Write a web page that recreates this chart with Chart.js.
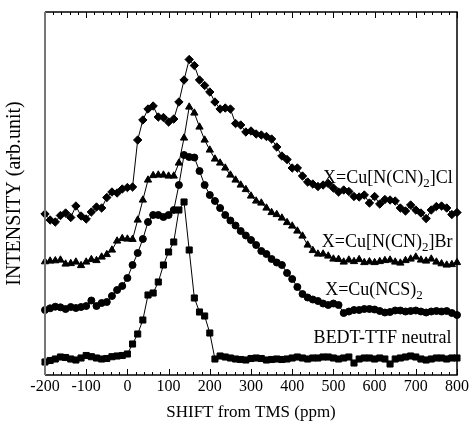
<!DOCTYPE html>
<html lang="en">
<head>
<meta charset="UTF-8">
<title>SHIFT from TMS</title>
<script src="https://cdn.jsdelivr.net/npm/chart.js"></script>
<style>
  html, body { margin: 0; padding: 0; background: #fff; }
  #wrap { width: 472px; height: 426px; }
</style>
</head>
<body>
<div id="wrap"><canvas id="nmrChart" width="472" height="426"></canvas></div>
<script>
// chemical shift (ppm), same grid for all four spectra
const shiftPpm = [
  -200, -187.5, -175, -162.5, -150, -137.5, -125, -112.5, -100, -87.5,
  -75, -62.5, -50, -37.5, -25, -12.5, 0, 12.5, 25, 37.5,
  50, 62.5, 75, 87.5, 100, 112.5, 125, 137.5, 150, 162.5,
  175, 187.5, 200, 212.5, 225, 237.5, 250, 262.5, 275, 287.5,
  300, 312.5, 325, 337.5, 350, 362.5, 375, 387.5, 400, 412.5,
  425, 437.5, 450, 462.5, 475, 487.5, 500, 512.5, 525, 537.5,
  550, 562.5, 575, 587.5, 600, 612.5, 625, 637.5, 650, 662.5,
  675, 687.5, 700, 712.5, 725, 737.5, 750, 762.5, 775, 787.5, 800
];

// intensities (arb. unit, curves offset as in the figure)
const clIntensity = [
  161, 155, 153, 159.5, 162, 157.5, 169, 159, 156, 163,
  168, 167, 177.5, 183, 182, 186, 187.5, 188, 235, 255,
  266, 269, 258, 257.5, 253, 256, 273, 295, 315.5, 309.5,
  295, 289.5, 283, 273, 266, 267, 266, 251.5, 250, 243,
  244, 241, 240, 238.5, 236, 228, 219, 215.5, 207, 207,
  199, 193, 191, 188.5, 190, 191.5, 187, 183, 185, 183.5,
  178.5, 178, 180, 172, 178.5, 171, 175.5, 175, 174, 167,
  164, 170, 165, 162, 156.5, 165, 168.5, 169, 167, 160.5, 162.5
];
const brIntensity = [
  113.3, 114, 114.3, 115, 111, 111.5, 113, 109.5, 113, 115.5,
  114.5, 118, 120.5, 125, 134, 136.5, 136, 135.7, 155, 175,
  195, 199.5, 200, 200, 199, 199, 212, 237, 268, 262,
  248, 235, 225, 216, 212, 207, 200, 195, 190, 185.5,
  179, 174, 172, 167, 162.5, 160.5, 157, 152.5, 149, 144,
  139, 130, 124.5, 121, 121, 119, 116, 115.7, 113, 115,
  113.5, 115.5, 112.5, 113.3, 112.5, 113.5, 114.5, 115, 113, 112,
  114.5, 116, 118, 115, 114, 116, 113, 111.3, 110, 110.5, 112.5
];
const ncsIntensity = [
  65, 66.7, 68.3, 67.7, 66, 68, 67, 68, 69, 74.5,
  69, 72, 73, 79, 85, 89, 97, 110, 122, 136,
  153, 160, 160, 158, 160, 165, 190, 220, 218, 217.5,
  204, 190, 180, 174, 167, 160, 154.5, 149.5, 144, 139.5,
  135, 130, 124, 121, 116, 112.5, 110, 102, 96, 88,
  81, 77.5, 75.5, 74, 71.5, 70, 71.5, 70, 62, 63.5,
  65, 65, 66, 66, 65.5, 64, 62.5, 63, 64.5, 64.5,
  63.5, 64, 64.5, 63.5, 62.5, 63.5, 64, 63.5, 64, 62, 60
];
const neutralIntensity = [
  13, 14.5, 16, 18, 17.5, 16, 15, 17, 19.5, 18.3,
  17, 16, 16.5, 18.3, 19, 19.5, 21, 31, 41, 55,
  80, 82, 93, 110, 123, 133, 165, 173, 125, 77,
  63, 59, 42, 16, 19, 18, 17, 16, 15.5, 15,
  16.5, 17, 16.5, 15, 15.5, 16, 15.5, 16, 17, 18,
  17, 16, 17, 17, 18, 18, 17, 16, 17, 18,
  12, 16, 17, 17, 16, 17, 16, 11, 16, 17,
  18, 19, 18, 16, 15, 16, 17, 17, 16, 17, 17
];

const xTickValues = [-200, -100, 0, 100, 200, 300, 400, 500, 600, 700, 800];

// curve labels: [text before subscript, subscript, text after]
const curveLabels = [
  ['X=Cu[N(CN)', '2', ']Cl'],
  ['X=Cu[N(CN)', '2', ']Br'],
  ['X=Cu(NCS)', '2', ''],
  ['BEDT-TTF neutral', '', '']
];
// where each label starts (ppm, intensity of text baseline)
const labelAnchors = [[475, 191.7], [472, 128.3], [480, 80], [452, 31.7]];

const SERIF = '"Liberation Serif", "Times New Roman", serif';

function toPoints(values) {
  return values.map((v, i) => ({ x: shiftPpm[i], y: v }));
}

function series(label, values, style, radius) {
  return {
    label: label,
    data: toPoints(values),
    borderColor: '#000',
    borderWidth: 1,
    backgroundColor: '#000',
    pointStyle: style,
    pointRadius: radius,
    pointBackgroundColor: '#000',
    pointBorderColor: '#000',
    pointBorderWidth: 1,
    tension: 0,
    clip: false
  };
}

const framePlugin = {
  id: 'frameAndLabels',
  afterDatasetsDraw(chart) {
    const ctx = chart.ctx;
    const area = chart.chartArea;
    const xs = chart.scales.x;
    const ys = chart.scales.y;
    ctx.save();

    // minor/major ticks, inward, bottom and top
    ctx.strokeStyle = '#000';
    ctx.lineWidth = 1;
    for (let v = -200; v <= 800; v += 20) {
      const px = Math.round(xs.getPixelForValue(v)) + 0.5;
      const len = (v % 100 === 0) ? 6 : 3;
      ctx.beginPath();
      ctx.moveTo(px, area.bottom);
      ctx.lineTo(px, area.bottom - len);
      ctx.moveTo(px, area.top);
      ctx.lineTo(px, area.top + len);
      ctx.stroke();
    }

    // frame
    ctx.lineWidth = 1.5;
    ctx.strokeStyle = '#000';
    ctx.beginPath();
    ctx.moveTo(area.left, area.top);
    ctx.lineTo(area.right, area.top);
    ctx.lineTo(area.right, area.bottom);
    ctx.lineTo(area.left, area.bottom);
    ctx.stroke();
    ctx.strokeStyle = '#777';
    ctx.lineWidth = 2;
    ctx.beginPath();
    ctx.moveTo(area.left, area.top);
    ctx.lineTo(area.left, area.bottom);
    ctx.stroke();

    // curve labels with subscripts
    ctx.fillStyle = '#000';
    ctx.textBaseline = 'alphabetic';
    ctx.textAlign = 'left';
    curveLabels.forEach((parts, k) => {
      let x = xs.getPixelForValue(labelAnchors[k][0]);
      const y = ys.getPixelForValue(labelAnchors[k][1]);
      ctx.font = '18px ' + SERIF;
      ctx.fillText(parts[0], x, y);
      x += ctx.measureText(parts[0]).width;
      if (parts[1]) {
        ctx.font = '13px ' + SERIF;
        ctx.fillText(parts[1], x, y + 4);
        x += ctx.measureText(parts[1]).width;
      }
      if (parts[2]) {
        ctx.font = '18px ' + SERIF;
        ctx.fillText(parts[2], x, y);
      }
    });
    ctx.restore();
  }
};

new Chart(document.getElementById('nmrChart'), {
  type: 'line',
  data: {
    datasets: [
      series('X=Cu[N(CN)2]Cl', clIntensity, 'rectRot', 4.2),
      series('X=Cu[N(CN)2]Br', brIntensity, 'triangle', 4.2),
      series('X=Cu(NCS)2', ncsIntensity, 'circle', 3.5),
      series('BEDT-TTF neutral', neutralIntensity, 'rect', 4.3)
    ]
  },
  options: {
    responsive: false,
    devicePixelRatio: 1,
    animation: false,
    layout: { padding: { top: 12, right: 15, left: 0, bottom: 0 } },
    plugins: {
      legend: { display: false },
      tooltip: { enabled: false }
    },
    scales: {
      x: {
        type: 'linear',
        min: -200,
        max: 800,
        afterBuildTicks: (scale) => {
          scale.ticks = xTickValues.map(v => ({ value: v }));
        },
        afterFit: (scale) => { scale.height = 51; },
        grid: { display: false, drawTicks: false },
        border: { display: false },
        ticks: {
          color: '#000',
          padding: 2,
          maxRotation: 0,
          font: { family: SERIF, size: 16 }
        },
        title: {
          display: true,
          text: 'SHIFT from TMS (ppm)',
          color: '#000',
          padding: { top: 0, bottom: 3 },
          font: { family: SERIF, size: 17 }
        }
      },
      y: {
        min: 0,
        max: 363,
        afterFit: (scale) => { scale.width = 45; },
        grid: { display: false, drawTicks: false },
        border: { display: false },
        ticks: { display: false },
        title: {
          display: true,
          text: 'INTENSITY (arb.unit)',
          color: '#000',
          padding: { top: 3, bottom: 0 },
          font: { family: SERIF, size: 20 }
        }
      }
    }
  },
  plugins: [framePlugin]
});
</script>
</body>
</html>
